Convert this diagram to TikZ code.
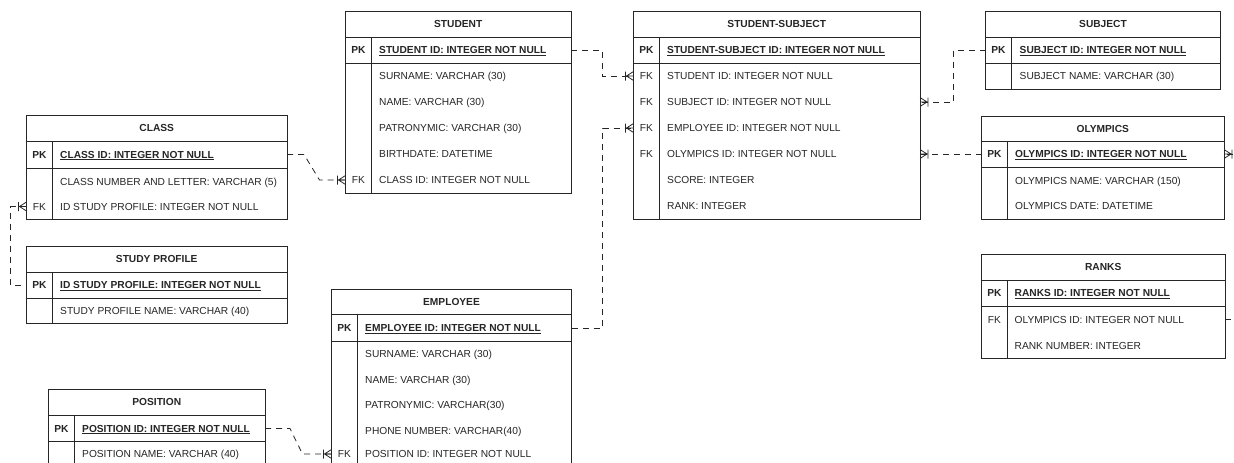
\documentclass[tikz,border=0pt]{standalone}
\usepackage{fontspec}
\setmainfont{Liberation Sans}
\usetikzlibrary{calc}
\definecolor{ink}{HTML}{262626}
\newcommand{\erfont}{\fontsize{10.2}{12}\selectfont}
\tikzset{
  tblbox/.style={draw=ink, line width=0.9pt, inner sep=0pt, outer sep=0pt},
  tblline/.style={draw=ink, line width=0.9pt},
  hdr/.style={font=\erfont\bfseries, text=ink, inner sep=0pt, text height=7.3pt, text depth=0pt},
  keyt/.style={font=\erfont, text=ink, inner sep=0pt, text height=7.3pt, text depth=0pt},
  fld/.style={font=\erfont, text=ink, inner sep=0pt, text height=7.3pt, text depth=0pt, anchor=west},
  rel/.style={draw=ink, line width=0.8pt, dash pattern=on 6pt off 5pt},
  crow/.pic={\draw[ink, line width=0.8pt, solid] (0,0) -- (-8,0) (0,4.5) -- (-7,0) -- (0,-4.5) (-8,4.5) -- (-8,-4.5);}
}
% #1 name, #2 L, #3 T, #4 R, #5 header bottom, #6 PK bottom, #7 bottom, #8 divider, #9 title
\newcommand{\ertab}[9]{%
  \node[tblbox, anchor=north west, minimum width={(#4-#2)*1pt}, minimum height={(#7-#3)*1pt}] (#1) at (#2,#3) {};
  \draw[tblline] (#2,#5) -- (#4,#5) (#2,#6) -- (#4,#6) (#8,#5) -- (#8,#7);
  \node[hdr] (#1-title) at ({(#2+#4)/2},{(#3+#5)/2}) {#9};
}
% #1 name, #2 key x, #3 text x, #4 y, #5 key, #6 field
\newcommand{\errow}[6]{%
  \node[keyt] (#1-key) at (#2,#4) {#5};
  \node[fld] (#1) at (#3,#4) {#6};
}
\newcommand{\pkey}[1]{\bfseries\underline{#1}}
\begin{document}
\begin{tikzpicture}[x=1pt, y=-1pt]
\useasboundingbox (0,0) rectangle (1234,463);
\fill[white] (0,0) rectangle (1234,463);
\clip (0,0) rectangle (1234,463);

% CLASS
\ertab{class}{26.5}{115}{287}{141.5}{168}{219}{52.5}{CLASS}
\errow{class-pk}{39.5}{60}{154.5}{\textbf{PK}}{\pkey{CLASS ID: INTEGER NOT NULL}}
\errow{class-f1}{39.5}{60}{181.5}{}{CLASS NUMBER AND LETTER: VARCHAR (5)}
\errow{class-f2}{39.5}{60}{206.5}{FK}{ID STUDY PROFILE: INTEGER NOT NULL}

% STUDY PROFILE
\ertab{sp}{26.5}{246}{287}{272}{298}{323.5}{52.5}{STUDY PROFILE}
\errow{sp-pk}{39.5}{60}{285}{\textbf{PK}}{\pkey{ID STUDY PROFILE: INTEGER NOT NULL}}
\errow{sp-f1}{39.5}{60}{311}{}{STUDY PROFILE NAME: VARCHAR (40)}

% STUDENT
\ertab{student}{345.5}{11}{571}{37}{63}{193}{371.5}{STUDENT}
\errow{student-pk}{358.5}{379}{50}{\textbf{PK}}{\pkey{STUDENT ID: INTEGER NOT NULL}}
\errow{student-f1}{358.5}{379}{76}{}{SURNAME: VARCHAR (30)}
\errow{student-f2}{358.5}{379}{102}{}{NAME: VARCHAR (30)}
\errow{student-f3}{358.5}{379}{128}{}{PATRONYMIC: VARCHAR (30)}
\errow{student-f4}{358.5}{379}{154}{}{BIRTHDATE: DATETIME}
\errow{student-f5}{358.5}{379}{180}{FK}{CLASS ID: INTEGER NOT NULL}

% STUDENT-SUBJECT
\ertab{ss}{633.5}{11.5}{920}{37}{63}{219}{659.5}{STUDENT-SUBJECT}
\errow{ss-pk}{646.5}{667}{50}{\textbf{PK}}{\pkey{STUDENT-SUBJECT ID: INTEGER NOT NULL}}
\errow{ss-f1}{646.5}{667}{76}{FK}{STUDENT ID: INTEGER NOT NULL}
\errow{ss-f2}{646.5}{667}{102}{FK}{SUBJECT ID: INTEGER NOT NULL}
\errow{ss-f3}{646.5}{667}{128}{FK}{EMPLOYEE ID: INTEGER NOT NULL}
\errow{ss-f4}{646.5}{667}{154}{FK}{OLYMPICS ID: INTEGER NOT NULL}
\errow{ss-f5}{646.5}{667}{180}{}{SCORE: INTEGER}
\errow{ss-f6}{646.5}{667}{206}{}{RANK: INTEGER}

% SUBJECT
\ertab{subject}{985.5}{11.5}{1220.5}{37}{63}{89}{1011.5}{SUBJECT}
\errow{subject-pk}{998.5}{1019.5}{50}{\textbf{PK}}{\pkey{SUBJECT ID: INTEGER NOT NULL}}
\errow{subject-f1}{998.5}{1019.5}{76}{}{SUBJECT NAME: VARCHAR (30)}

% OLYMPICS
\ertab{olympics}{981.5}{116}{1224}{141.5}{167.5}{219}{1007.5}{OLYMPICS}
\errow{olympics-pk}{994.5}{1015}{154}{\textbf{PK}}{\pkey{OLYMPICS ID: INTEGER NOT NULL}}
\errow{olympics-f1}{994.5}{1015}{180.5}{}{OLYMPICS NAME: VARCHAR (150)}
\errow{olympics-f2}{994.5}{1015}{206}{}{OLYMPICS DATE: DATETIME}

% RANKS
\ertab{ranks}{981.5}{254}{1225}{280}{306}{358.5}{1007.5}{RANKS}
\errow{ranks-pk}{994.5}{1014.5}{293}{\textbf{PK}}{\pkey{RANKS ID: INTEGER NOT NULL}}
\errow{ranks-f1}{994.5}{1014.5}{319.5}{FK}{OLYMPICS ID: INTEGER NOT NULL}
\errow{ranks-f2}{994.5}{1014.5}{345.5}{}{RANK NUMBER: INTEGER}

% EMPLOYEE
\ertab{employee}{331.5}{289}{571.5}{314.5}{341}{490}{357.5}{EMPLOYEE}
\errow{employee-pk}{344.5}{365}{328}{\textbf{PK}}{\pkey{EMPLOYEE ID: INTEGER NOT NULL}}
\errow{employee-f1}{344.5}{365}{354}{}{SURNAME: VARCHAR (30)}
\errow{employee-f2}{344.5}{365}{379.5}{}{NAME: VARCHAR (30)}
\errow{employee-f3}{344.5}{365}{405}{}{PATRONYMIC: VARCHAR(30)}
\errow{employee-f4}{344.5}{365}{430.5}{}{PHONE NUMBER: VARCHAR(40)}
\errow{employee-f5}{344.5}{365}{454}{FK}{POSITION ID: INTEGER NOT NULL}

% POSITION
\ertab{position}{48.5}{389.5}{265}{415}{441.5}{490}{74}{POSITION}
\errow{position-pk}{61.5}{82}{428.5}{\textbf{PK}}{\pkey{POSITION ID: INTEGER NOT NULL}}
\errow{position-f1}{61.5}{82}{454}{}{POSITION NAME: VARCHAR (40)}

% Relations
\draw[rel] (class-pk -| class.east) -- ++(17,0) -- ($(student-f5 -| student.west)+(-26,0)$) -- (student-f5 -| student.west);
\pic at (student-f5 -| student.west) {crow};

\draw[rel] (student-pk -| student.east) -| ($(ss-f1 -| ss.west)+(-31,0)$) -- (ss-f1 -| ss.west);
\pic at (ss-f1 -| ss.west) {crow};

\draw[rel] (employee-pk -| employee.east) -| ($(ss-f3 -| ss.west)+(-31,0)$) -- (ss-f3 -| ss.west);
\pic at (ss-f3 -| ss.west) {crow};

\draw[rel] (subject-pk -| subject.west) -| ($(ss-f2 -| ss.east)+(33,0)$) -- (ss-f2 -| ss.east);
\pic[xscale=-1] at (ss-f2 -| ss.east) {crow};

\draw[rel] (olympics-pk -| olympics.west) -- (ss-f4 -| ss.east);
\pic[xscale=-1] at (ss-f4 -| ss.east) {crow};

\draw[rel] (class-f2 -| class.west) -- ++(-16,0) |- (sp-pk -| sp.west);
\pic at (class-f2 -| class.west) {crow};

\draw[rel] (position-pk -| position.east) -- ++(25,0) -- ($(employee-f5 -| employee.west)+(-29,0)$) -- (employee-f5 -| employee.west);
\pic at (employee-f5 -| employee.west) {crow};

\draw[rel] (ranks-f1 -| ranks.east) -- ++(20,0) |- (olympics-pk -| olympics.east);
\pic[xscale=-1] at (olympics-pk -| olympics.east) {crow};
\end{tikzpicture}
\end{document}
